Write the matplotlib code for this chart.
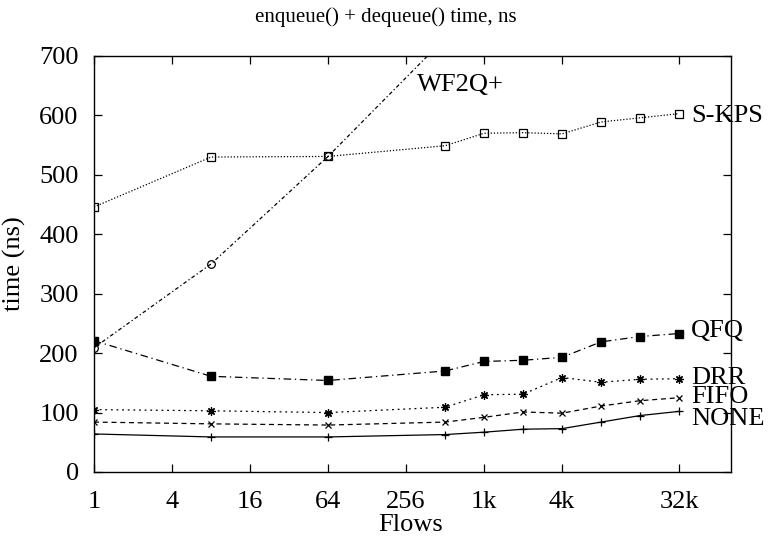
import matplotlib
matplotlib.use("Agg")
import matplotlib.pyplot as plt
from matplotlib.ticker import FixedLocator, FixedFormatter, NullLocator

plt.rcParams['font.family'] = ['Liberation Serif', 'DejaVu Serif']

flows = [1, 8, 64, 512, 1024, 2048, 4096, 8192, 16384, 32768]

none_ns = [64, 59, 59, 63, 67, 72, 73, 84, 95, 102]
fifo_ns = [84, 81, 79, 84, 92, 101, 99, 111, 120, 125]
drr_ns = [105, 103, 100, 109, 130, 131, 159, 151, 156, 157]
qfq_ns = [221, 161, 154, 170, 186, 188, 193, 219, 228, 233]
skps_ns = [446, 530, 531, 549, 570, 571, 569, 589, 596, 603]
wf2q_flows = [1, 8, 64, 512]
wf2q_ns = [209, 350, 531, 730]

xticks = [1, 4, 16, 64, 256, 1024, 4096, 32768]
xtick_labels = ['1', '4', '16', '64', '256', '1k', '4k', '32k']
yticks = [0, 100, 200, 300, 400, 500, 600, 700]

fig = plt.figure(figsize=(7.69, 5.38), dpi=100)
ax = fig.add_axes([94 / 769, 1 - 472 / 538, (731 - 94) / 769, (472 - 56) / 538])
ax.set_xscale('log', base=2)

lw = 0.9
ax.plot(flows, none_ns, color='black', lw=lw, ls='-', marker='+', ms=6, mew=0.9)
ax.plot(flows, fifo_ns, color='black', lw=lw, ls=(0, (4, 3)), marker='x', ms=5, mew=0.9)
ax.plot(flows, drr_ns, color='black', lw=lw, ls=(0, (1.5, 3)), marker=(8, 2, 0), ms=6, mew=0.9)
ax.plot(flows, qfq_ns, color='black', lw=lw, ls=(0, (6, 3, 1, 3)), marker='s', ms=6,
        mfc='black', mec='black')
ax.plot(flows, skps_ns, color='black', lw=lw, ls=(0, (1, 1.5)), marker='s', ms=6,
        mfc='none', mec='black', mew=0.9)
ax.plot(wf2q_flows, wf2q_ns, color='black', lw=lw, ls=(0, (3, 2, 1, 2)), marker='o', ms=5.5,
        mfc='none', mec='black', mew=0.9)

# series names written next to the last points, gnuplot style
fs = 19
ax.text(2 ** 15.3, 599, 'S-KPS', fontsize=fs, va='center', ha='left')
ax.text(2 ** 15.3, 238, 'QFQ', fontsize=fs, va='center', ha='left')
ax.text(2 ** 15.3, 158, 'DRR', fontsize=fs, va='center', ha='left')
ax.text(2 ** 15.3, 127, 'FIFO', fontsize=fs, va='center', ha='left')
ax.text(2 ** 15.3, 89, 'NONE', fontsize=fs, va='center', ha='left')
ax.text(2 ** 8.28, 651, 'WF2Q+', fontsize=fs, va='center', ha='left')

ax.set_xlim(1, 2 ** 16.33)
ax.set_ylim(0, 700)
ax.xaxis.set_major_locator(FixedLocator(xticks))
ax.xaxis.set_major_formatter(FixedFormatter(xtick_labels))
ax.xaxis.set_minor_locator(NullLocator())
ax.set_yticks(yticks)
ax.tick_params(direction='in', length=6, width=0.9, top=True, right=True,
               labelsize=fs)
ax.tick_params(axis='x', pad=14)
ax.tick_params(axis='y', pad=11)
for sp in ax.spines.values():
    sp.set_linewidth(1.0)

fig.text(411 / 769, 1 - 531 / 538, 'Flows', fontsize=fs, ha='center', va='baseline')
fig.text(14 / 769, 1 - 264 / 538, 'time (ns)', fontsize=fs, ha='center', va='center',
         rotation=90)
fig.text(386 / 769, 1 - 17 / 538, 'enqueue() + dequeue() time, ns', fontsize=15,
         ha='center', va='center')

fig.savefig('out.png', dpi=100)
